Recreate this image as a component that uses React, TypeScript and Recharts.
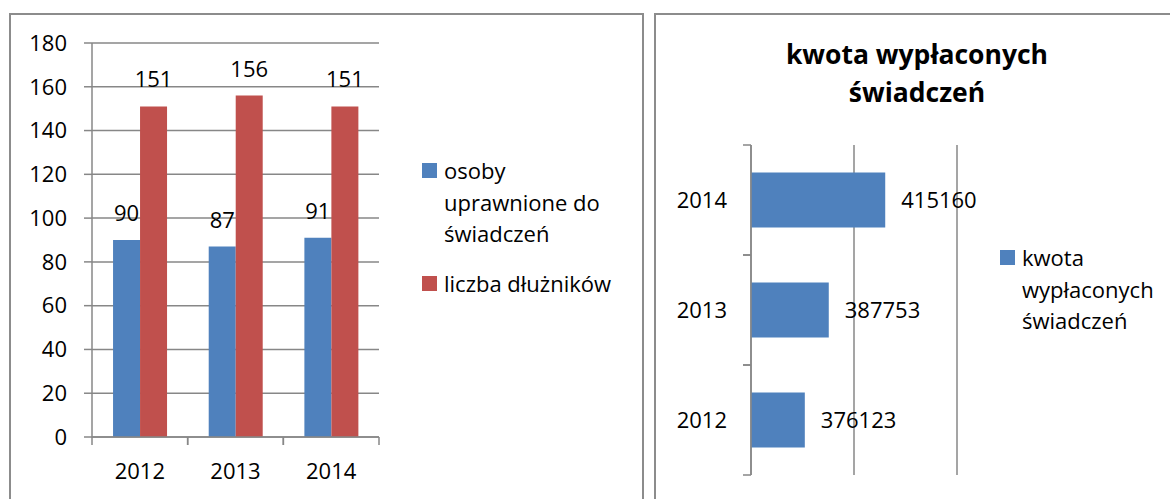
import React from "react";
import { Bar, BarChart, CartesianGrid, LabelList, Legend, XAxis, YAxis } from "recharts";

const years = ["2012", "2013", "2014"];
const osobyUprawnione = [90, 87, 91];
const liczbaDluznikow = [151, 156, 151];
const kwotaSwiadczen = [376123, 387753, 415160];
const leftTicks = [0, 20, 40, 60, 80, 100, 120, 140, 160, 180];
const rightTicks = [350000, 400000, 450000];

const FONT = "'Open Sans', 'Noto Sans', sans-serif";
const GRID = "#878787";
const BLUE = "#4f81bd";
const RED = "#c0504d";

const leftRows = years.map((year, i) => ({
  year,
  osoby: osobyUprawnione[i],
  dluznicy: liczbaDluznikow[i],
}));

const rightRows = years.map((year, i) => ({ year, kwota: kwotaSwiadczen[i] }));

// category axis ticks sit on the band edges, like in the spreadsheet
function BottomTick(props: any) {
  const { x, y, payload } = props;
  const half = payload.offset ?? 0;
  return (
    <g>
      <line x1={x - half} x2={x - half} y1={y} y2={y + 8} stroke={GRID} strokeWidth={1.5} />
      <line x1={x + half} x2={x + half} y1={y} y2={y + 8} stroke={GRID} strokeWidth={1.5} />
      <text x={x} y={y + 42} textAnchor="middle" fill="#000" fontSize={22} fontFamily={FONT}>
        {payload.value}
      </text>
    </g>
  );
}

function LeftSideTick(props: any) {
  const { x, y, payload } = props;
  const half = payload.offset ?? 0;
  return (
    <g>
      <line x1={x - 8} x2={x} y1={y - half} y2={y - half} stroke={GRID} strokeWidth={1.5} />
      <line x1={x - 8} x2={x} y1={y + half} y2={y + half} stroke={GRID} strokeWidth={1.5} />
      <text x={x - 24} y={y} dy="0.36em" textAnchor="end" fill="#000" fontSize={22} fontFamily={FONT}>
        {payload.value}
      </text>
    </g>
  );
}

function renderLegend(textWidth: number, order: string[]) {
  return (props: any) => {
    const items = [...(props.payload || [])].sort(
      (a: any, b: any) => order.indexOf(a.dataKey) - order.indexOf(b.dataKey)
    );
    return (
      <div style={{ fontFamily: FONT, fontSize: 22, lineHeight: "31.5px", color: "#000" }}>
        {items.map((entry: any) => (
          <div key={entry.value} style={{ display: "flex", alignItems: "flex-start", marginBottom: 18 }}>
            <div style={{ width: 15, height: 15, marginTop: 8, marginRight: 7, background: entry.color, flex: "none" }} />
            <div style={{ width: textWidth }}>{entry.value}</div>
          </div>
        ))}
      </div>
    );
  };
}

export default function App() {
  return (
    <div
      style={{
        position: "absolute",
        left: 0,
        top: 0,
        width: 1170,
        height: 499,
        overflow: "hidden",
        background: "#fff",
        fontFamily: FONT,
      }}
    >
      <div
        style={{
          position: "absolute",
          left: 9,
          top: 13,
          width: 635,
          height: 600,
          boxSizing: "border-box",
          border: "2px solid #8c8c8c",
        }}
      />
      <div
        style={{
          position: "absolute",
          left: 654,
          top: 13,
          width: 600,
          height: 600,
          boxSizing: "border-box",
          border: "2px solid #8c8c8c",
        }}
      />

      <div style={{ position: "absolute", left: 0, top: 0 }}>
        <BarChart
          width={643}
          height={499}
          data={leftRows}
          margin={{ top: 43, right: 264, bottom: 0, left: 0 }}
          barCategoryGap="22%"
          barGap={0}
        >
          <CartesianGrid horizontal vertical={false} stroke={GRID} strokeWidth={1.5} />
          <XAxis
            dataKey="year"
            height={62}
            axisLine={{ stroke: GRID, strokeWidth: 1.5 }}
            tickLine={false}
            tickSize={0}
            tickMargin={0}
            tick={<BottomTick />}
          />
          <YAxis
            width={92}
            domain={[0, 180]}
            ticks={leftTicks}
            interval={0}
            axisLine={{ stroke: GRID, strokeWidth: 1.5 }}
            tickLine={{ stroke: GRID, strokeWidth: 1.5 }}
            tickSize={8}
            tickMargin={17}
            tick={{ fill: "#000", fontSize: 22, fontFamily: FONT }}
          />
          <Legend
            layout="horizontal"
            align="center"
            verticalAlign="middle"
            wrapperStyle={{ left: 422, top: 155, width: 220 }}
            content={renderLegend(180, ["osoby", "dluznicy"])}
          />
          <Bar dataKey="osoby" name="osoby uprawnione do świadczeń" fill={BLUE} isAnimationActive={false}>
            <LabelList dataKey="osoby" position="top" offset={19} fill="#000" fontSize={22} fontFamily={FONT} />
          </Bar>
          <Bar dataKey="dluznicy" name="liczba dłużników" fill={RED} isAnimationActive={false}>
            <LabelList dataKey="dluznicy" position="top" offset={19} fill="#000" fontSize={22} fontFamily={FONT} />
          </Bar>
        </BarChart>
      </div>

      <div
        style={{
          position: "absolute",
          left: 717,
          top: 35,
          width: 400,
          textAlign: "center",
          fontWeight: 700,
          fontSize: 26.5,
          lineHeight: "38px",
          color: "#000",
        }}
      >
        kwota wypłaconych
        <br />
        świadczeń
      </div>

      <div style={{ position: "absolute", left: 652, top: 0 }}>
        <BarChart
          width={518}
          height={499}
          data={rightRows}
          layout="vertical"
          margin={{ top: 145, right: 213, bottom: 24, left: 0 }}
          barCategoryGap="25%"
        >
          <CartesianGrid horizontal={false} vertical stroke={GRID} strokeWidth={1.5} />
          <XAxis type="number" domain={[350000, 450000]} ticks={rightTicks} hide />
          <YAxis
            type="category"
            dataKey="year"
            reversed
            width={99}
            axisLine={{ stroke: GRID, strokeWidth: 1.5 }}
            tickLine={false}
            tickSize={0}
            tickMargin={0}
            tick={<LeftSideTick />}
          />
          <Legend
            layout="horizontal"
            align="center"
            verticalAlign="middle"
            wrapperStyle={{ left: 348, top: 242, width: 170 }}
            content={renderLegend(148, ["kwota"])}
          />
          <Bar dataKey="kwota" name="kwota wypłaconych świadczeń" fill={BLUE} isAnimationActive={false}>
            <LabelList dataKey="kwota" position="right" offset={16} fill="#000" fontSize={22} fontFamily={FONT} />
          </Bar>
        </BarChart>
      </div>
    </div>
  );
}
